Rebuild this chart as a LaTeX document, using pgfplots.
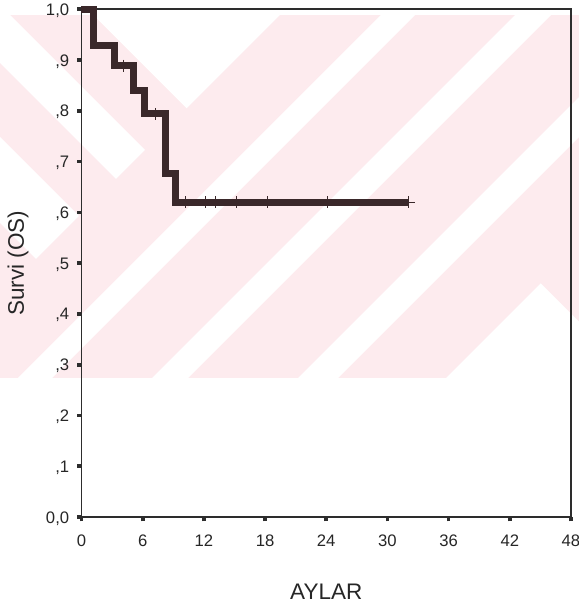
\documentclass[border=0pt]{standalone}
\usepackage{fontspec}
\setmainfont{Liberation Sans}
\usepackage{pgfplots}
\pgfplotsset{compat=1.18}
\definecolor{wm}{RGB}{253,235,238}
\definecolor{km}{RGB}{58,40,42}
\definecolor{axc}{RGB}{45,45,45}
\begin{document}
\begin{tikzpicture}
\path[use as bounding box] (-48.9pt,310.2pt) rectangle (298.5pt,-53.4pt);
\begin{scope}[x=0.6pt,y=-0.6pt,shift={(-48.9pt,310.2pt)}]
\fill[wm] (0,15) -- (579,15) -- (579,378) -- (0,378) -- cycle;
\fill[white] (93.4,15) -- (186.7,108.3) -- (280,15) -- cycle;
\fill[white] (0,15) -- (10,15) -- (145,150) -- (116,179) -- (0,63) -- cycle;
\fill[white] (0,137) -- (79,216) -- (36,259) -- (0,223) -- cycle;
\fill[white] (381,15) -- (415,15) -- (52,378) -- (18,378) -- cycle;
\fill[white] (515,15) -- (551,15) -- (188,378) -- (152,378) -- cycle;
\fill[white] (579,97) -- (579,137) -- (338,378) -- (298,378) -- cycle;
\fill[white] (446,378) -- (540.7,283.3) -- (579,321.6) -- (579,378) -- cycle;
\end{scope}
\begin{axis}[
  at={(0pt,0pt)}, anchor=south west,
  scale only axis, width=293.7pt, height=304.6pt,
  xmin=0, xmax=48, ymin=0, ymax=1,
  xtick={0,6,12,18,24,30,36,42,48},
  ytick={0,0.1,0.2,0.3,0.4,0.5,0.6,0.7,0.8,0.9,1},
  yticklabels={{0,0},{,1},{,2},{,3},{,4},{,5},{,6},{,7},{,8},{,9},{1,0}},
  xtick pos=bottom, ytick pos=left,
  tick align=outside,
  major tick length=2.6pt,
  tick style={draw=axc, line width=2.2pt},
  axis line style={draw=axc, line width=1pt},
  /pgf/number format/assume math mode=true,
  tick label style={font=\fontsize{10}{12}\selectfont, text=black!85},
  xticklabel style={anchor=base, yshift=-14.8pt},
  yticklabel style={anchor=east, inner sep=0pt, xshift=-4.6pt, yshift=-0.8pt},
  xlabel={AYLAR}, ylabel={Survi (OS)},
  label style={font=\fontsize{13.5}{16}\selectfont, text=black!85},
  xlabel style={at={(axis description cs:0.5,-0.1634)}, anchor=base},
  ylabel style={at={(axis description cs:-0.1175,0.5)}, anchor=base},
  clip=false,
]
\addplot[const plot, km, line width=4.2pt, line join=miter] coordinates {
  (0,1.0) (1.2,0.928) (3.2,0.889) (5.1,0.841) (6.2,0.794) (8.2,0.677) (9.2,0.620) (32.1,0.620)
};
\addplot[only marks, mark=+, mark size=3.6pt, km, mark options={line width=0.6pt}] coordinates {
  (4.1,0.889) (7.3,0.794) (10.2,0.62) (12.2,0.62) (13.1,0.62) (15.2,0.62) (18.2,0.62) (24.1,0.62) (32.1,0.62)
};
\end{axis}
\end{tikzpicture}
\end{document}
